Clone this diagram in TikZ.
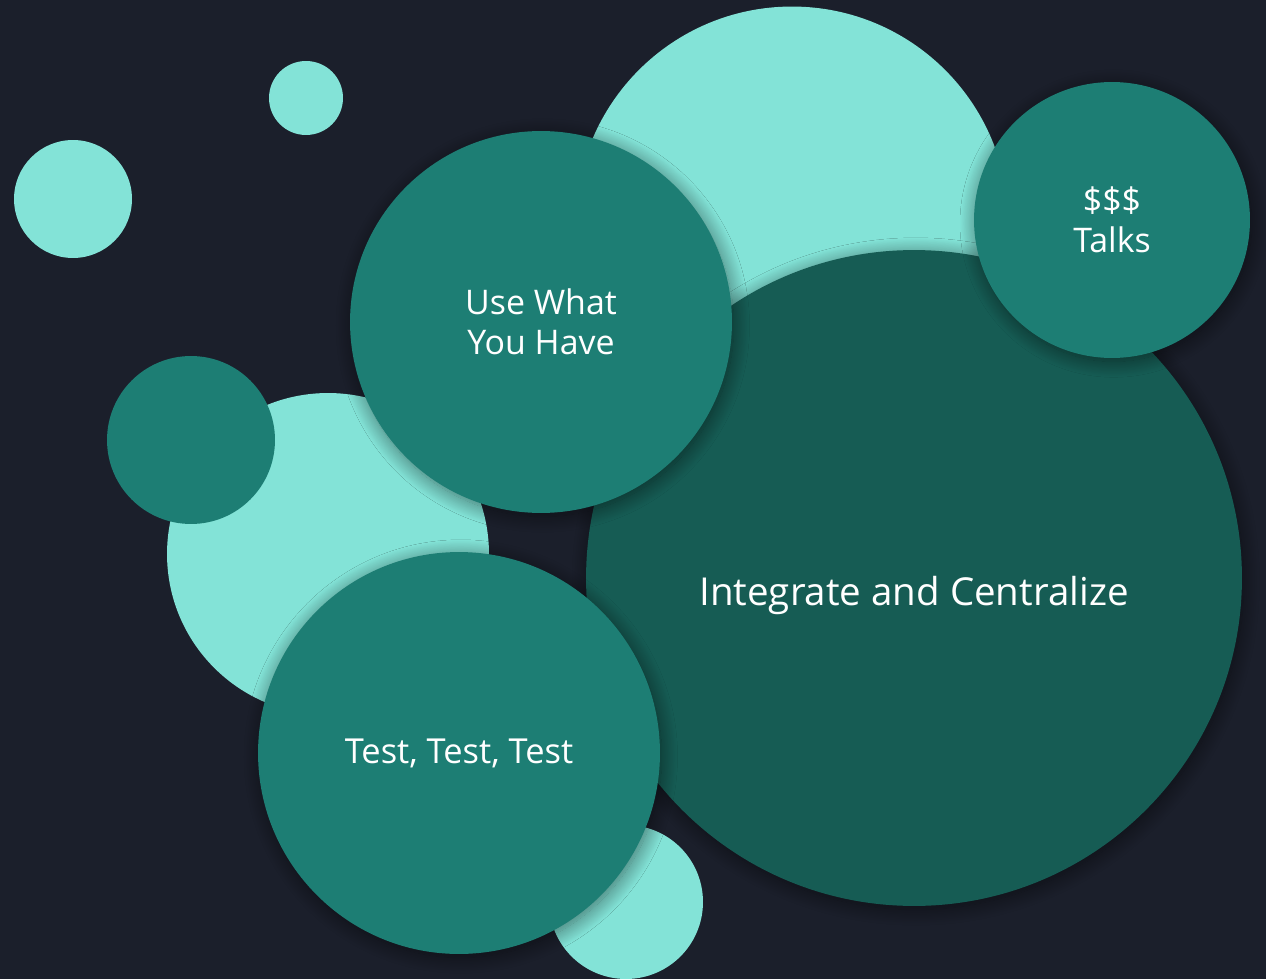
\documentclass[tikz,border=0pt]{standalone}
\usepackage{fontspec}
\setmainfont{Open Sans}
\usetikzlibrary{shadows.blur}

\definecolor{bgnavy}{HTML}{1B1F2B}
\definecolor{mintlight}{HTML}{83E3D7}
\definecolor{tealmid}{HTML}{1D7E74}
\definecolor{tealdark}{HTML}{165C54}

\tikzset{
  bubble/.style={circle, inner sep=0pt, fill=#1, text=white, align=center},
  lifted/.style={blur shadow={shadow xshift=1pt, shadow yshift=-2pt,
      shadow blur radius=9pt, shadow blur steps=25, shadow opacity=50}},
}

\begin{document}
\begin{tikzpicture}[x=0.02cm, y=-0.02cm]
            \useasboundingbox (0,0) rectangle (1266,979);
            \fill[bgnavy] (0,0) rectangle (1266,979);
            \clip (0,0) rectangle (1266,979);
            % background dots
            \node[bubble=mintlight, minimum size=1.48cm] (dot-top) at (306,98) {};
            \node[bubble=mintlight, minimum size=2.36cm] (dot-left) at (73,199) {};
            \node[bubble=mintlight, minimum size=8.66cm] (mint-big) at (792,223) {};
            \node[bubble=mintlight, minimum size=6.44cm] (mint-left) at (328,554) {};
            \node[bubble=tealmid, minimum size=3.36cm] (teal-small) at (191,440) {};
            \node[bubble=mintlight, minimum size=3.08cm] (mint-bottom) at (626,902) {};
            % the four ideas
            \node[bubble=tealdark, lifted, minimum size=13.12cm] (integ) at (914,578) {};
            \node[font=\fontsize{21.9}{26}\selectfont, text=white] (integ-label) at ([yshift=-0.36cm]integ.center) {Integrate and Centralize};
            \node[bubble=tealmid, lifted, minimum size=7.64cm, font=\fontsize{19.3}{23}\selectfont] (use-what) at (541,322) {Use What\\You Have};
            \node[bubble=tealmid, lifted, minimum size=5.52cm, font=\fontsize{19.3}{23}\selectfont] (talks) at (1112,220) {\$\$\$\\Talks};
            \node[bubble=tealmid, lifted, minimum size=8.04cm, font=\fontsize{19.6}{23}\selectfont] (test) at (459,753) {Test, Test, Test};
          \end{tikzpicture}
\end{document}
